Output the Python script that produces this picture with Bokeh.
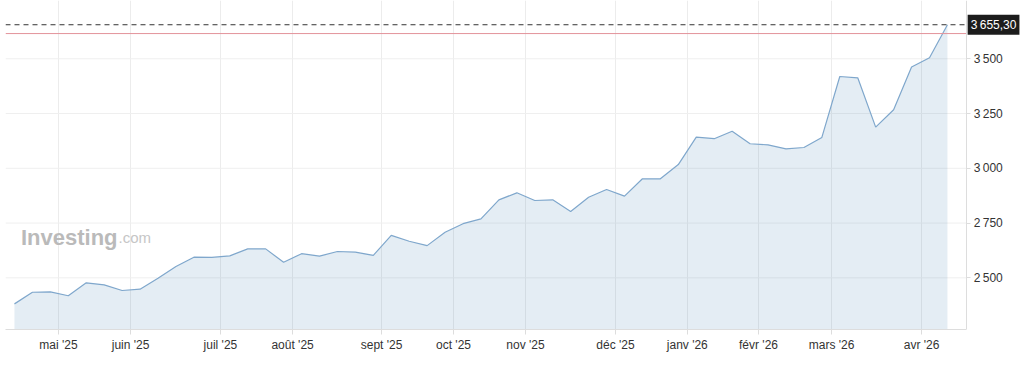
from bokeh.plotting import figure
from bokeh.models import ColumnDataSource, FixedTicker, Label, Range1d
from bokeh.embed import file_html
from bokeh.resources import INLINE

# ---- data (weekly closes) ----
values = [2381, 2434, 2436, 2418, 2477, 2468, 2442, 2448, 2498, 2552, 2594, 2593, 2600, 2632,
          2632, 2571, 2610, 2599, 2620, 2617, 2602, 2694, 2667, 2647, 2708, 2747, 2769,
          2856, 2888, 2853, 2856, 2803, 2868, 2903, 2873, 2952, 2952, 3017, 3142, 3135,
          3169, 3112, 3107, 3089, 3095, 3141, 3419, 3413, 3188, 3267, 3462, 3505, 3655.3]
week_index = list(range(len(values)))

month_labels = ["mai '25", "juin '25", "juil '25", "août '25", "sept '25", "oct '25",
                "nov '25", "déc '25", "janv '26", "févr '26", "mars '26", "avr '26"]
month_positions = [2.45, 6.47, 11.48, 15.5, 20.46, 24.47, 28.48, 33.5, 37.5, 41.47, 45.54, 50.56]

y_ticks = [2500, 2750, 3000, 3250, 3500]
y_tick_labels = ["2\u2009500", "2\u2009750", "3\u2009000", "3\u2009250", "3\u2009500"]

last_value = values[-1]
last_label = "3\u2009655,30"
reference_level = 3615

Y_MIN, Y_MAX = 2264, 3766
X_MIN, X_MAX = -0.5, 56.35      # frame spans the whole width
AXIS_X = 53.07                  # where the price axis sits

FONT = "Liberation Sans"

src = ColumnDataSource(dict(x=week_index, y=values, base=[Y_MIN] * len(values)))

p = figure(width=1025, height=365, output_backend="svg", toolbar_location=None,
           x_range=Range1d(X_MIN, X_MAX), y_range=Range1d(Y_MIN, Y_MAX),
           y_axis_location="right")
p.min_border_left = 5
p.min_border_right = 0
p.min_border_top = 0
p.min_border_bottom = 36
p.outline_line_color = None
p.background_fill_color = "white"
p.border_fill_color = "white"

# horizontal grid, limited to the plotting area left of the price axis
p.ygrid.visible = False
p.segment(x0=[X_MIN] * len(y_ticks), x1=[AXIS_X] * len(y_ticks), y0=y_ticks, y1=y_ticks,
          line_color="#efefef", line_width=1)

p.varea(x="x", y1="base", y2="y", source=src, fill_color="#3e7db4", fill_alpha=0.14)
p.line(x="x", y="y", source=src, line_color="#7fa7cc", line_width=1.2)

# reference lines
p.segment(x0=[X_MIN], x1=[AXIS_X], y0=[reference_level], y1=[reference_level],
          line_color="#e3939a", line_width=1)
p.segment(x0=[X_MIN], x1=[AXIS_X], y0=[last_value], y1=[last_value],
          line_color="#333333", line_width=1, line_dash="5 4")

# axes
xa = p.xaxis[0]
xa.ticker = FixedTicker(ticks=month_positions)
xa.major_label_overrides = {pos: lab for pos, lab in zip(month_positions, month_labels)}
xa.bounds = (X_MIN, AXIS_X)
xa.axis_line_color = "#dddddd"
xa.major_tick_line_color = "#dddddd"
xa.major_tick_out = 5
xa.major_tick_in = 0
xa.minor_tick_line_color = None
xa.major_label_standoff = 3
xa.major_label_text_font = FONT
xa.major_label_text_font_size = "12px"
xa.major_label_text_color = "#333333"

ya = p.yaxis[0]
ya.fixed_location = AXIS_X
ya.ticker = FixedTicker(ticks=y_ticks)
ya.major_label_overrides = {t: lab for t, lab in zip(y_ticks, y_tick_labels)}
ya.axis_line_color = "#dddddd"
ya.major_tick_line_color = "#dddddd"
ya.major_tick_out = 4
ya.major_tick_in = 0
ya.minor_tick_line_color = None
ya.major_label_standoff = 3
ya.major_label_text_font = FONT
ya.major_label_text_font_size = "12px"
ya.major_label_text_color = "#333333"

p.xgrid.grid_line_color = "#ececec"

# last price tag, just right of the price axis
p.add_layout(Label(x=AXIS_X, x_offset=1, y=last_value, text=last_label,
                   text_font=FONT, text_font_size="12px", text_color="white",
                   text_baseline="middle", text_align="left",
                   background_fill_color="#1c1c1c", padding=3))

# watermark
p.add_layout(Label(x=0.36, y=2684, text="Investing", text_font=FONT, text_font_size="22px",
                   text_font_style="bold", text_color="#bababa", text_baseline="alphabetic"))
p.add_layout(Label(x=5.8, y=2684, text=".com", text_font=FONT, text_font_size="15px",
                   text_color="#c6c6c6", text_baseline="alphabetic"))

open("out.html", "w").write(file_html(p, INLINE))
